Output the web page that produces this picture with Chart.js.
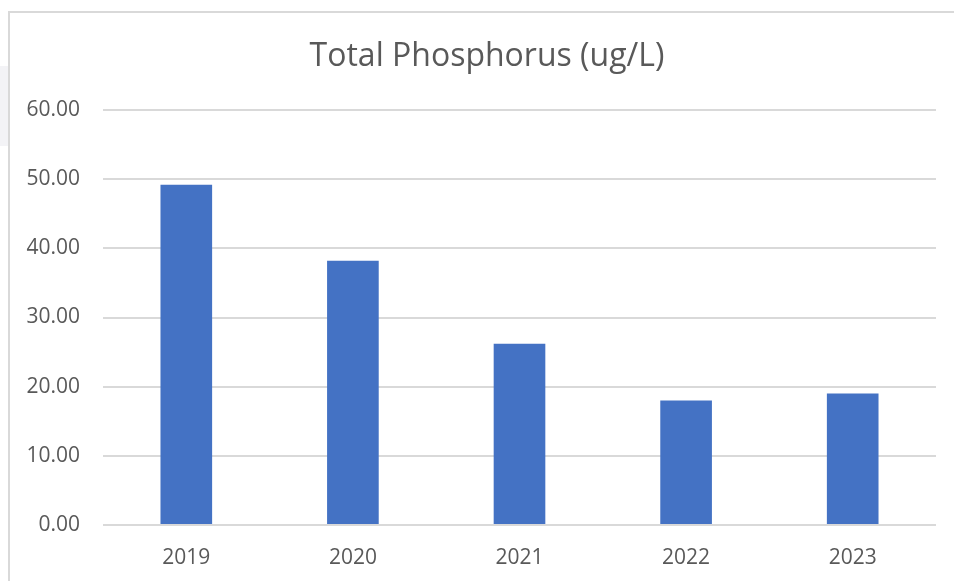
<!DOCTYPE html>
<html>
<meta charset="UTF-8">
<script src="https://cdn.jsdelivr.net/npm/chart.js"></script>
<head>
    <title>Total Phosphorus</title>
    <style>
        body { margin: 0; background: #fff; overflow: hidden; }
        #side { position: absolute; left: 0; top: 66px; width: 10px; height: 80px; background: #f3f3f6; }
        #frame { position: absolute; left: 8px; top: 11px; width: 980px; height: 600px; border: 2px solid #d9d9d9; background: #fff; }
        #wrap { position: absolute; left: 0; top: 0; width: 954px; height: 581px; }
    </style>
</head>
<body>
<div id="side"></div>
<div id="frame"></div>
<div id="wrap"><canvas id="chart"></canvas></div>
<script>
    // данные с картинки
    const years = ['2019', '2020', '2021', '2022', '2023'];
    const phosphorus = [49.2, 38.2, 26.2, 18.0, 19.0];
    const yTicks = [0, 10, 20, 30, 40, 50, 60];
    const titleText = 'Total Phosphorus (ug/L)';

    const font = "'Open Sans', sans-serif";
    const ctx = document.getElementById('chart').getContext('2d');

    // заголовок по центру рамки, а не области графика
    const frameTitle = {
        id: 'frameTitle',
        afterDraw(chart) {
            const c = chart.ctx;
            c.save();
            c.font = '32px ' + font;
            c.fillStyle = '#595959';
            c.textAlign = 'center';
            c.textBaseline = 'middle';
            c.fillText(titleText, 487, 57);
            c.restore();
        }
    };

    new Chart(ctx, {
        type: 'bar',
        data: {
            labels: years,
            datasets: [{
                label: titleText,
                data: phosphorus,
                backgroundColor: '#4472C4',
                borderWidth: 0,
                barPercentage: 0.31,
                categoryPercentage: 1
            }]
        },
        options: {
            responsive: true,
            maintainAspectRatio: false,
            animation: false,
            layout: { padding: { left: 0, right: 18, top: 110, bottom: 0 } },
            scales: {
                x: {
                    grid: { display: false, drawTicks: false },
                    border: { display: false },
                    ticks: { color: '#595959', font: { family: font, size: 21 }, padding: 20 },
                    afterFit: (s) => { s.height = 56; }
                },
                y: {
                    min: 0,
                    max: 60,
                    afterBuildTicks: (s) => { s.ticks = yTicks.map(v => ({ value: v })); },
                    grid: { color: '#d9d9d9', lineWidth: 2, drawTicks: false },
                    border: { display: false },
                    ticks: {
                        color: '#595959',
                        font: { family: font, size: 21 },
                        padding: 23,
                        callback: (v) => Number(v).toFixed(2)
                    },
                    afterFit: (s) => { s.width = 103; }
                }
            },
            plugins: {
                legend: { display: false },
                tooltip: { enabled: false },
                title: { display: false }
            }
        },
        plugins: [frameTitle]
    });
</script>
</body>
</html>
